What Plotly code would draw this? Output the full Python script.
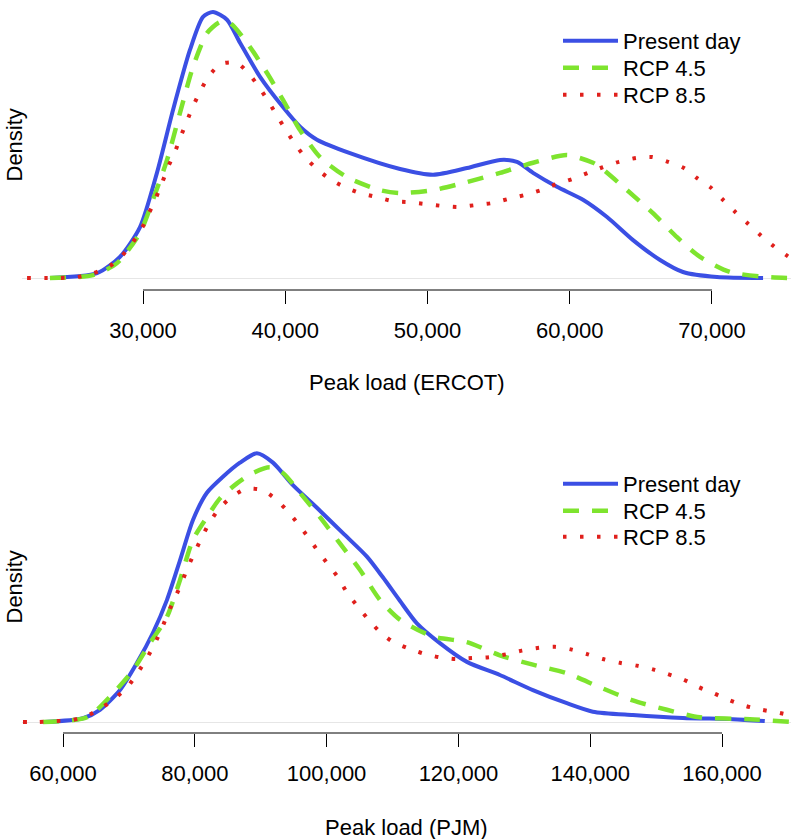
import plotly.graph_objects as go

# ---------------- data (densities in units of 1e-5 per MW) ----------------
series_names = ["Present day", "RCP 4.5", "RCP 8.5"]

ercot_ticks = [30000, 40000, 50000, 60000, 70000]
ercot_tick_labels = ["30,000", "40,000", "50,000", "60,000", "70,000"]
pjm_ticks = [60000, 80000, 100000, 120000, 140000, 160000]
pjm_tick_labels = ["60,000", "80,000", "100,000", "120,000", "140,000", "160,000"]

ercot_present_load = [23460, 26770, 28380, 29790, 30980, 32110, 33300, 34220, 34920, 35905,
                      36820, 38230, 39840, 41040, 42230, 44550, 48070, 50390, 52780, 55100,
                      56290, 57420, 59100, 60930, 62620, 64450, 66350, 67960, 70350, 73590]
ercot_present_density = [0.0, 0.10, 0.44, 1.06, 2.19, 3.50, 4.75, 5.44, 5.54, 5.38,
                         4.90, 4.19, 3.56, 3.15, 2.88, 2.60, 2.27, 2.15, 2.29, 2.46,
                         2.42, 2.19, 1.90, 1.63, 1.27, 0.79, 0.375, 0.125, 0.02, 0.0]

ercot_rcp45_load = [23460, 26490, 28170, 29790, 30700, 31690, 32600, 33520, 34500, 35410,
                    36120, 37310, 38720, 39840, 41040, 42440, 44340, 46660, 48070, 50390,
                    52780, 55100, 57420, 59810, 61635, 62130, 64030, 65850, 67540, 69160,
                    71270, 73870, 75620]
ercot_rcp45_density = [0.0, 0.06, 0.31, 0.94, 1.63, 2.46, 3.44, 4.40, 5.10, 5.33,
                       5.31, 4.90, 4.27, 3.71, 3.08, 2.52, 2.10, 1.83, 1.77, 1.83,
                       2.00, 2.19, 2.40, 2.56, 2.40, 2.31, 1.83, 1.35, 0.85, 0.44,
                       0.125, 0.02, 0.0]

ercot_rcp85_load = [21850, 24170, 25360, 26490, 27680, 28520, 29300, 29930, 30420, 30910,
                    31340, 31760, 32250, 32670, 33090, 33520, 34080, 34640, 35480, 36610,
                    37450, 38150, 38790, 39420, 40050, 40690, 41390, 42230, 43150, 44130,
                    45250, 46380, 47580, 48700, 49900, 51090, 52210, 53410, 54530, 55730,
                    56850, 57980, 59100, 60160, 61280, 62340, 63460, 64660, 65780, 66910,
                    68030, 68950, 69930, 70770, 71620, 72460, 73300, 74220, 75200, 76190,
                    77590]
ercot_rcp85_density = [0.0, 0.0, 0.02, 0.10, 0.25, 0.46, 0.75, 1.04, 1.35, 1.67,
                       1.98, 2.31, 2.63, 2.96, 3.27, 3.58, 3.92, 4.21, 4.46, 4.48,
                       4.25, 3.98, 3.69, 3.38, 3.08, 2.79, 2.52, 2.27, 2.06, 1.90,
                       1.77, 1.69, 1.60, 1.58, 1.54, 1.50, 1.48, 1.52, 1.56, 1.65,
                       1.73, 1.83, 1.96, 2.06, 2.19, 2.31, 2.42, 2.50, 2.52, 2.42,
                       2.29, 2.08, 1.88, 1.63, 1.38, 1.15, 0.92, 0.69, 0.48, 0.29,
                       0.12]

pjm_present_load = [57270, 63030, 65610, 68650, 71230, 73650, 75780, 77750, 79720, 81840,
                    84270, 86850, 89430, 91860, 94890, 98530, 102480, 106120, 108540, 111120,
                    113700, 117190, 121290, 126290, 131300, 136460, 140400, 146470, 154050, 161640,
                    166490]
pjm_present_density = [0.0, 0.04, 0.13, 0.34, 0.63, 0.95, 1.30, 1.72, 2.15, 2.44,
                       2.61, 2.76, 2.86, 2.76, 2.52, 2.28, 2.01, 1.76, 1.54, 1.29,
                       1.05, 0.84, 0.64, 0.50, 0.34, 0.20, 0.11, 0.074, 0.043, 0.03,
                       0.01]

pjm_rcp45_load = [56970, 63640, 67130, 70620, 73200, 75780, 77750, 79720, 81840, 83820,
                  86400, 88820, 91400, 93370, 95950, 98990, 102020, 105050, 108090, 111120,
                  116130, 121290, 126290, 131300, 136460, 141460, 146470, 151630, 156630, 164220,
                  170740]
pjm_rcp45_density = [0.0, 0.05, 0.27, 0.55, 0.84, 1.12, 1.51, 1.94, 2.18, 2.38,
                     2.54, 2.65, 2.71, 2.65, 2.44, 2.18, 1.90, 1.62, 1.30, 1.09,
                     0.91, 0.85, 0.71, 0.61, 0.52, 0.37, 0.23, 0.13, 0.05, 0.03,
                     0.0]

pjm_rcp85_load = [53930, 56210, 58790, 61370, 63790, 66070, 68190, 69860, 71380, 72740,
                  73960, 75020, 75930, 76990, 78050, 78960, 80020, 81090, 82300, 83820,
                  85490, 87760, 90190, 92310, 94130, 95650, 97170, 98680, 100200, 101720,
                  103080, 104600, 106120, 107940, 109910, 112180, 114610, 117040, 119620, 122050,
                  124620, 127200, 129630, 132210, 134640, 137220, 139640, 141920, 144500, 147080,
                  149500, 151780, 154210, 156480, 158910, 161180, 163610, 166040, 168470, 171040]
pjm_rcp85_density = [0.0, 0.0, 0.01, 0.02, 0.07, 0.16, 0.27, 0.38, 0.53, 0.68,
                     0.84, 1.00, 1.16, 1.32, 1.49, 1.65, 1.81, 1.97, 2.13, 2.28,
                     2.39, 2.48, 2.47, 2.37, 2.24, 2.11, 1.97, 1.82, 1.68, 1.54,
                     1.38, 1.24, 1.11, 0.97, 0.86, 0.79, 0.73, 0.69, 0.67, 0.68,
                     0.69, 0.72, 0.76, 0.79, 0.80, 0.77, 0.72, 0.67, 0.63, 0.60,
                     0.56, 0.51, 0.45, 0.37, 0.30, 0.23, 0.17, 0.13, 0.10, 0.06]

# ---------------- styles ----------------
FONT = "Liberation Sans, Arial, Helvetica, sans-serif"
BLUE = "#3b4fe4"
GREEN = "#7ee42e"
RED = "#e0201c"
styles = [
    dict(color=BLUE, width=4, dash="solid"),
    dict(color=GREEN, width=4.5, dash="16px,13px"),
    dict(color=RED, width=4, dash="3.5px,13.5px"),
]

W, H = 793, 839
ML, MR = 22, 2
PW = W - ML - MR

fig = go.Figure()

# legend box tops (px from top of figure) for each entry of each panel
legend_tops = [[20, 47, 74], [463, 490, 516]]
legend_left_px = 558

panels = [
    ("x", "y", [(ercot_present_load, ercot_present_density),
                (ercot_rcp45_load, ercot_rcp45_density),
                (ercot_rcp85_load, ercot_rcp85_density)]),
    ("x2", "y2", [(pjm_present_load, pjm_present_density),
                  (pjm_rcp45_load, pjm_rcp45_density),
                  (pjm_rcp85_load, pjm_rcp85_density)]),
]
legend_layouts = {}
k = 0
for p, (xa, ya, data) in enumerate(panels):
    for i, (name, st, (xs, ys)) in enumerate(zip(series_names, styles, data)):
        k += 1
        lg = "legend" if k == 1 else f"legend{k}"
        fig.add_trace(go.Scatter(
            x=xs, y=ys, mode="lines", name=name, xaxis=xa, yaxis=ya, legend=lg,
            showlegend=True,
            line=dict(color=st["color"], width=st["width"], dash=st["dash"],
                      shape="spline", smoothing=0.7),
            hoverinfo="skip",
        ))
        legend_layouts[lg] = dict(
            x=(legend_left_px - ML) / PW, y=1 - legend_tops[p][i] / H,
            xanchor="left", yanchor="top", bgcolor="rgba(0,0,0,0)", itemwidth=55,
            font=dict(family=FONT, size=22, color="black"))


def px_to_domain(top_px, bottom_px):
    return [1 - bottom_px / H, 1 - top_px / H]


axis_common = dict(showgrid=False, zeroline=False, showline=False, ticks="outside",
                   ticklen=13, tickwidth=1, tickcolor="black", ticklabelstandoff=8,
                   tickfont=dict(family=FONT, size=22, color="black"))
yaxis_common = dict(showgrid=False, showticklabels=False, ticks="", showline=False,
                    zeroline=True, zerolinecolor="#e6e6e6", zerolinewidth=1.2)

fig.update_layout(
    width=W, height=H,
    showlegend=True,
    margin=dict(l=ML, r=MR, t=0, b=0),
    paper_bgcolor="white", plot_bgcolor="white",
    font=dict(family=FONT, size=22, color="black"),
    xaxis=dict(domain=[0, 1], range=[21494, 75554], anchor="y",
               tickvals=ercot_ticks, ticktext=ercot_tick_labels, **axis_common),
    yaxis=dict(domain=px_to_domain(1, 290), range=[-0.25, 5.77], anchor="x", **yaxis_common),
    xaxis2=dict(domain=[0, 1], range=[53778, 170470], anchor="y2",
                tickvals=pjm_ticks, ticktext=pjm_tick_labels, **axis_common),
    yaxis2=dict(domain=px_to_domain(442, 733), range=[-0.117, 2.98], anchor="x2", **yaxis_common),
    **legend_layouts,
)

# R-style axis lines spanning first to last tick
for xr, yr, ticks in [("x", "y domain", ercot_ticks), ("x2", "y2 domain", pjm_ticks)]:
    fig.add_shape(type="line", xref=xr, yref=yr, x0=ticks[0], x1=ticks[-1], y0=0, y1=0,
                  line=dict(color="black", width=1))

# axis titles
fig.add_annotation(text="Peak load (ERCOT)", xref="x domain", yref="y domain", x=0.5, y=0,
                   yshift=-93, showarrow=False, yanchor="middle",
                   font=dict(family=FONT, size=22, color="black"))
fig.add_annotation(text="Peak load (PJM)", xref="x2 domain", yref="y2 domain", x=0.5, y=0,
                   yshift=-94, showarrow=False, yanchor="middle",
                   font=dict(family=FONT, size=22, color="black"))
for xr, yr in [("x domain", "y domain"), ("x2 domain", "y2 domain")]:
    fig.add_annotation(text="Density", xref=xr, yref=yr, x=0, y=0.5, xshift=-8,
                       showarrow=False, textangle=-90, xanchor="center", yanchor="middle",
                       font=dict(family=FONT, size=22, color="black"))

fig.write_html("out.html", config={"displayModeBar": False},
               post_script="document.body.style.margin='0';document.body.style.overflow='hidden';")
